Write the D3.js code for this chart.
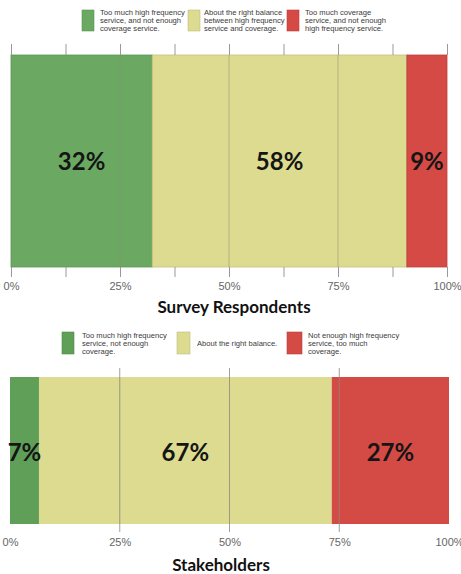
<!DOCTYPE html>
<html>
<head>
<meta charset="utf-8">
<script src="https://cdn.jsdelivr.net/npm/d3@7"></script>
<style>
  html, body { margin: 0; padding: 0; background: #fff; }
  svg { display: block; }
</style>
</head>
<body>
<svg id="chart" width="461" height="574"></svg>
<script>
// Shares of responses (percent) for each group
const surveyCategories = ["highFrequency", "balance", "coverage"];
const surveyValues = [32.4, 58.4, 9.2];
const surveyLegend = [
  ["Too much high frequency", "service, and not enough", "coverage service."],
  ["About the right balance", "between high frequency", "service and coverage."],
  ["Too much coverage", "service, and not enough", "high frequency service."]
];

const stakeholderCategories = ["highFrequency", "balance", "coverage"];
const stakeholderValues = [6.6, 66.7, 26.7];
const stakeholderLegend = [
  ["Too much high frequency", "service, not enough", "coverage."],
  ["About the right balance."],
  ["Not enough high frequency", "service, too much", "coverage."]
];

const tickValues = [0, 25, 50, 75, 100];
const minorTickValues = [0, 12.5, 25, 37.5, 50, 62.5, 75, 87.5, 100];
const panelTitles = ["Survey Respondents", "Stakeholders"];

const svg = d3.select("#chart");
const fmt = v => Math.round(v) + "%";

function stackOf(values) {
  let acc = 0;
  return values.map(v => { const d = { x0: acc, x1: acc + v, v }; acc += v; return d; });
}

function drawLegend(g, items, colors, xs, swatchY, swatchH, textLines) {
  items.forEach((lines, i) => {
    g.append("rect")
      .attr("x", xs[i][0]).attr("y", swatchY)
      .attr("width", xs[i][1]).attr("height", swatchH)
      .attr("fill", colors[i])
      .attr("stroke", d3.color(colors[i]).darker(0.4)).attr("stroke-width", 0.6);
    const t = g.append("text")
      .attr("x", xs[i][2])
      .attr("font-family", "Liberation Sans, Arial, sans-serif")
      .attr("font-size", 7.6)
      .attr("fill", "#3a3a3a");
    const offsets = textLines[lines.length];
    lines.forEach((line, k) => {
      t.append("tspan").attr("x", xs[i][2]).attr("y", offsets[k]).text(line);
    });
  });
}

// ---------- Survey respondents ----------
(function () {
  const colors = ["#6ba962", "#dcdb90", "#d54a45"];
  const x = d3.scaleLinear().domain([0, 100]).range([11, 447]);
  const top = 55, bottom = 267;
  const g = svg.append("g");

  drawLegend(g, surveyLegend, colors,
    [[82, 12, 100], [188, 12, 204], [287, 12, 305]],
    10, 21, { 3: [15, 23, 31] });

  const segs = stackOf(surveyValues);
  g.selectAll("rect.seg").data(segs).join("rect")
    .attr("class", "seg")
    .attr("x", d => x(d.x0)).attr("y", top)
    .attr("width", d => x(d.x1) - x(d.x0)).attr("height", bottom - top)
    .attr("fill", (d, i) => colors[i])
    .attr("stroke", (d, i) => d3.color(colors[i]).darker(0.35))
    .attr("stroke-width", 0.8);

  // grid lines through the bar
  g.selectAll("line.grid").data([25, 50, 75]).join("line")
    .attr("class", "grid")
    .attr("x1", d => x(d)).attr("x2", d => x(d))
    .attr("y1", top).attr("y2", bottom)
    .attr("stroke", "#8a8a78").attr("stroke-width", 0.8).attr("opacity", 0.6);

  // top ticks
  g.append("g").attr("transform", `translate(0,${top})`)
    .call(d3.axisTop(x).tickValues(minorTickValues).tickSize(11).tickFormat(""))
    .call(a => a.select(".domain").remove())
    .call(a => a.selectAll("line").attr("stroke", "#999"));

  // bottom axis
  g.append("g").attr("transform", `translate(0,${bottom})`)
    .call(d3.axisBottom(x).tickValues(minorTickValues).tickSize(10)
      .tickFormat(d => tickValues.includes(d) ? d + "%" : ""))
    .call(a => a.select(".domain").remove())
    .call(a => a.selectAll("line").attr("stroke", "#999"))
    .call(a => a.selectAll("text")
      .attr("font-family", "Liberation Sans, Arial, sans-serif")
      .attr("font-size", 11).attr("fill", "#666").attr("dy", "0.95em"));

  g.selectAll("text.val").data(segs).join("text")
    .attr("class", "val")
    .attr("x", d => (x(d.x0) + x(d.x1)) / 2)
    .attr("y", (top + bottom) / 2)
    .attr("dy", "0.36em")
    .attr("text-anchor", "middle")
    .attr("font-family", "Lato, sans-serif").attr("font-weight", "bold")
    .attr("font-size", 24).attr("fill", "#151515")
    .text(d => fmt(d.v));

  g.append("text")
    .attr("x", 234).attr("y", 313)
    .attr("text-anchor", "middle")
    .attr("font-family", "Lato, sans-serif").attr("font-weight", "bold")
    .attr("font-size", 17).attr("fill", "#111")
    .text(panelTitles[0]);
})();

// ---------- Stakeholders ----------
(function () {
  const colors = ["#5f9f57", "#dcdb90", "#d44a45"];
  const x = d3.scaleLinear().domain([0, 100]).range([10, 449]);
  const top = 377, bottom = 524;
  const g = svg.append("g");

  drawLegend(g, stakeholderLegend, colors,
    [[62, 12, 82], [177, 13, 197], [287, 15, 308]],
    332, 22, { 1: [346], 3: [338, 346, 354] });

  const segs = stackOf(stakeholderValues);
  g.selectAll("rect.seg").data(segs).join("rect")
    .attr("class", "seg")
    .attr("x", d => x(d.x0)).attr("y", top)
    .attr("width", d => x(d.x1) - x(d.x0)).attr("height", bottom - top)
    .attr("fill", (d, i) => colors[i]);

  // grid lines rising above and below the bar
  g.selectAll("line.grid").data([25, 50, 75]).join("line")
    .attr("class", "grid")
    .attr("x1", d => x(d)).attr("x2", d => x(d))
    .attr("y1", 368).attr("y2", 532)
    .attr("stroke", "#8a8a80").attr("stroke-width", 0.8);

  g.append("g").attr("transform", `translate(0,${bottom})`)
    .call(d3.axisBottom(x).tickValues(tickValues).tickSize(0).tickFormat(d => d + "%"))
    .call(a => a.select(".domain").remove())
    .call(a => a.selectAll("text")
      .attr("font-family", "Liberation Sans, Arial, sans-serif")
      .attr("font-size", 11).attr("fill", "#666").attr("y", 18).attr("dy", "0.35em"));

  g.selectAll("text.val").data(segs).join("text")
    .attr("class", "val")
    .attr("x", d => (x(d.x0) + x(d.x1)) / 2)
    .attr("y", (top + bottom) / 2 + 2)
    .attr("dy", "0.36em")
    .attr("text-anchor", "middle")
    .attr("font-family", "Lato, sans-serif").attr("font-weight", "bold")
    .attr("font-size", 24).attr("fill", "#151515")
    .text(d => fmt(d.v));

  g.append("text")
    .attr("x", 221).attr("y", 571)
    .attr("text-anchor", "middle")
    .attr("font-family", "Lato, sans-serif").attr("font-weight", "bold")
    .attr("font-size", 17).attr("fill", "#111")
    .text(panelTitles[1]);
})();
</script>
</body>
</html>
